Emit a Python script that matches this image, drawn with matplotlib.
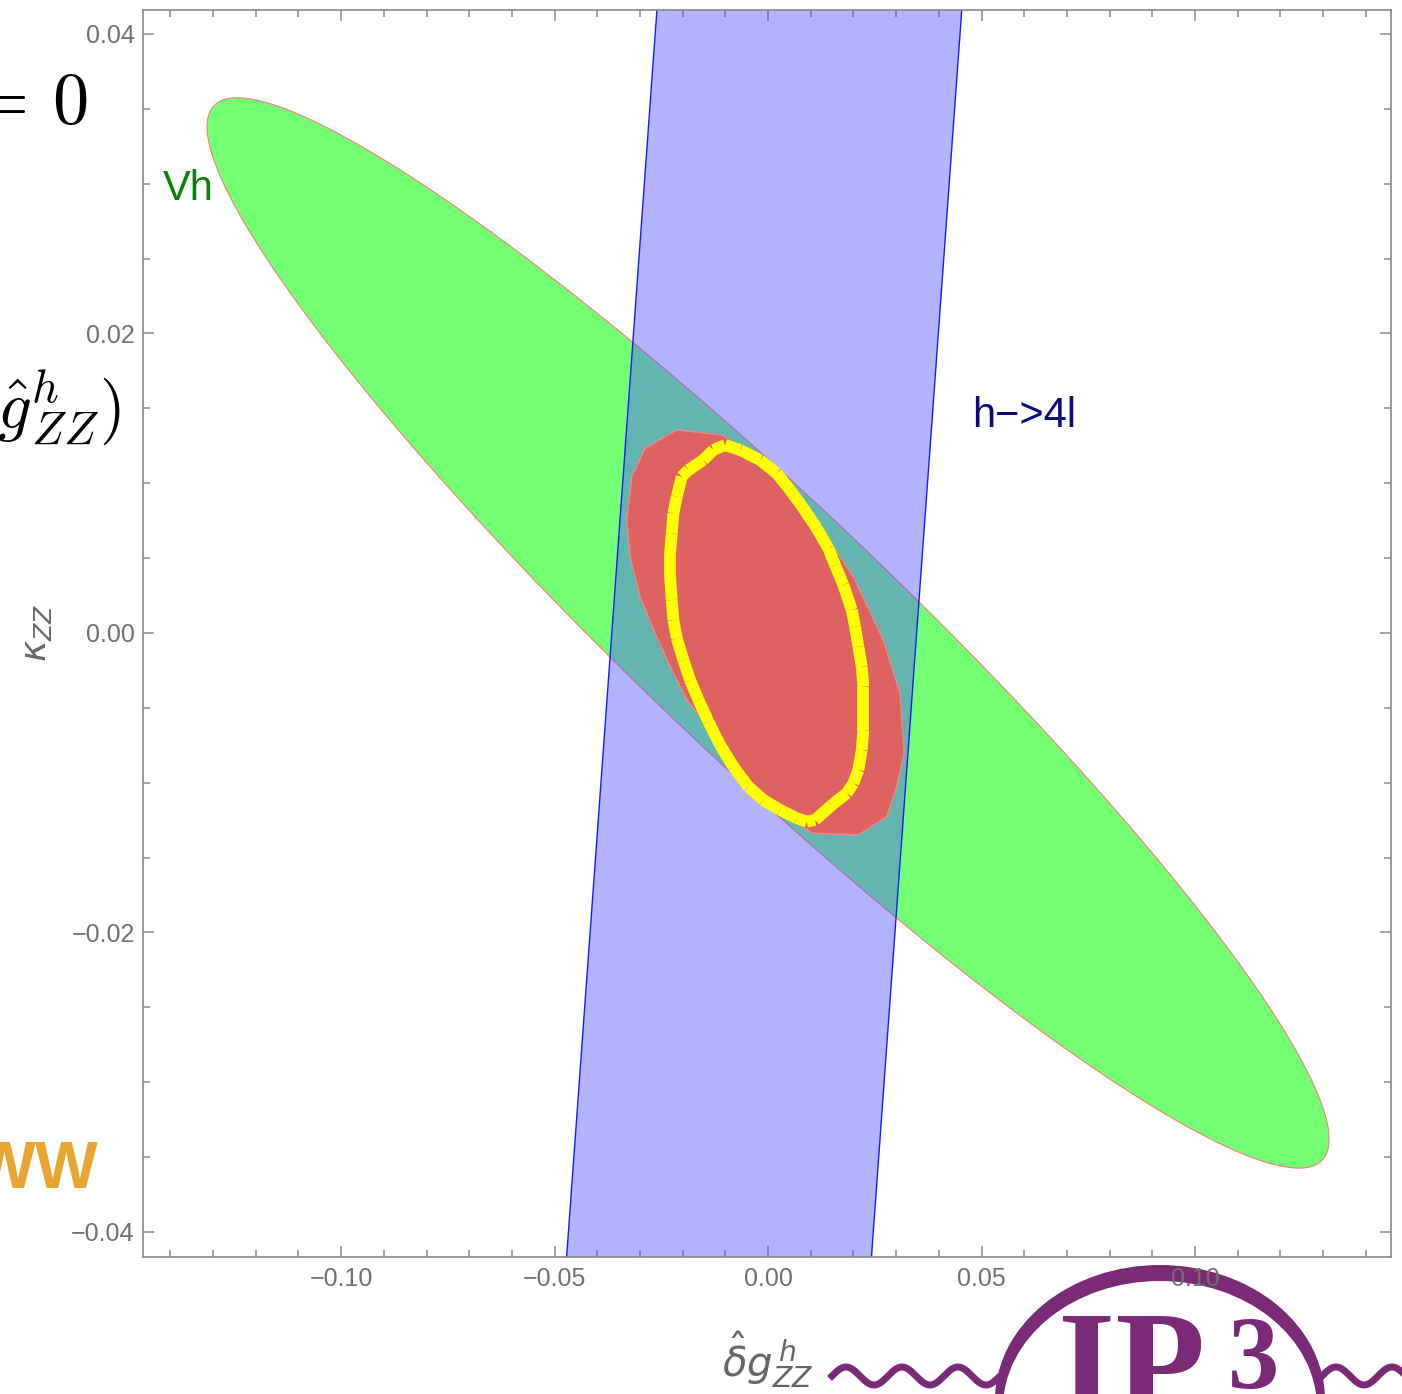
"""Constraint plane (delta g_ZZ^h, kappa_ZZ): Vh ellipse, h->4l band, combined fit."""
import numpy as np
import matplotlib; matplotlib.use("Agg")
import matplotlib.pyplot as plt
from matplotlib.patches import Ellipse
from matplotlib.ticker import MultipleLocator, FuncFormatter

plt.rcParams["font.family"] = ["Liberation Sans", "DejaVu Sans"]

# --- data ----------------------------------------------------------------
# Vh ellipse: centre, leftmost point (offset from centre), vertical half-width at centre
ell_center = (0.0, 0.0)
ell_left = (-0.1314, 0.0338)
ell_h = 0.0116

# h->4l band: x = offset + slope*y  +/- half-width
band_offset = -0.0009
band_slope = 0.254
band_halfw = 0.0357

# combined region (red)
red_x = [-0.02138, -0.01084, 0.00124, 0.01061, 0.01998, 0.02700, 0.03091, 0.03185,
         0.03014, 0.02780, 0.02115, 0.01061, 0.00124, -0.00813, -0.01475, -0.01904,
         -0.02255, -0.02646, -0.02998, -0.03232, -0.03309, -0.03192, -0.02881]
red_y = [0.01356, 0.01322, 0.01111, 0.00777, 0.00376, -0.00047, -0.00403, -0.00803,
         -0.01026, -0.01227, -0.01349, -0.01338, -0.01182, -0.00893, -0.00601, -0.00447,
         -0.00247, -0.00002, 0.00242, 0.00510, 0.00755, 0.01044, 0.01233]

# inner contour (yellow)
yel_x = [-0.01007, -0.00656, -0.00187, 0.00204, 0.00515, 0.00827, 0.01141, 0.01412,
         0.01569, 0.01763, 0.01960, 0.02037, 0.02115, 0.02194, 0.02232, 0.02232,
         0.02232, 0.02194, 0.02115, 0.01998, 0.01843, 0.01492, 0.01101, 0.00906,
         0.00672, 0.00281, -0.00110, -0.00461, -0.00813, -0.01124, -0.01398, -0.01632,
         -0.01827, -0.01984, -0.02138, -0.02218, -0.02255, -0.02295, -0.02295, -0.02255,
         -0.02218, -0.02138, -0.02021, -0.01866, -0.01515, -0.01281]
yel_y = [0.01255, 0.01222, 0.01155, 0.01066, 0.00955, 0.00833, 0.00699, 0.00566,
         0.00454, 0.00321, 0.00154, 0.00042, -0.00091, -0.00225, -0.00359, -0.00514,
         -0.00648, -0.00781, -0.00915, -0.01004, -0.01070, -0.01149, -0.01249, -0.01260,
         -0.01237, -0.01182, -0.01115, -0.01026, -0.00893, -0.00748, -0.00592, -0.00447,
         -0.00314, -0.00180, -0.00035, 0.00087, 0.00220, 0.00376, 0.00532, 0.00666,
         0.00799, 0.00910, 0.01044, 0.01088, 0.01155, 0.01222]

xticks = [-0.10, -0.05, 0.00, 0.05, 0.10]
yticks = [-0.04, -0.02, 0.00, 0.02, 0.04]

# --- figure ----------------------------------------------------------------
W, H = 1402, 1394
fig = plt.figure(figsize=(W / 100, H / 100), dpi=100)
ax = fig.add_axes([143 / W, 1 - 1257 / H, (1391 - 143) / W, (1257 - 10) / H])
ax.set_xlim(-0.1464, 0.1459)
ax.set_ylim(-0.04167, 0.0416)

t = np.linspace(0, 2 * np.pi, 600)
ex = ell_center[0] + np.cos(t) * ell_left[0]
ey = ell_center[1] + np.cos(t) * ell_left[1] + np.sin(t) * ell_h
ax.fill(ex, ey, fc="#73ff73", ec="#ff7a7a", lw=0.8, zorder=1)

yb = np.array([-0.06, 0.06])
xl = band_offset - band_halfw + band_slope * yb
xr = band_offset + band_halfw + band_slope * yb
ax.fill([xl[0], xl[1], xr[1], xr[0]], [yb[0], yb[1], yb[1], yb[0]],
        fc=(80 / 255, 80 / 255, 1.0), alpha=0.43, lw=0, zorder=2)
ax.plot(xl, yb, c="#1a1aff", lw=1, zorder=2)
ax.plot(xr, yb, c="#1a1aff", lw=1, zorder=2)

ax.fill(red_x, red_y, fc="#de6262", ec="#ea8a8a", lw=1, zorder=3)

cx = yel_x + yel_x[:1]
cy = yel_y + yel_y[:1]
for i in range(len(cx) - 1):
    ax.plot(cx[i:i + 2], cy[i:i + 2], c="#ffff00", lw=8.5, solid_capstyle="butt", zorder=4)

ax.text(-0.1417, 0.0289, "Vh", color="#088208", fontsize=30)
ax.text(0.0478, 0.01376, "h\u2212>4l", color="#0a0a80", fontsize=30)

# --- axes cosmetics (Mathematica frame look) --------------------------------
fmt = FuncFormatter(lambda v, p: f"{0.0 if abs(v) < 1e-9 else v:.2f}".replace("-", "\u2212"))
ax.set_xticks(xticks); ax.set_yticks(yticks)
ax.xaxis.set_major_formatter(fmt); ax.yaxis.set_major_formatter(fmt)
ax.xaxis.set_minor_locator(MultipleLocator(0.01))
ax.yaxis.set_minor_locator(MultipleLocator(0.005))
ax.tick_params(which="both", direction="in", top=True, right=True, color="#888888",
               width=1.1, labelcolor="#707070", labelsize=18)
ax.tick_params(which="major", length=8)
ax.tick_params(which="minor", length=5)
ax.tick_params(axis="y", pad=6)
ax.tick_params(axis="x", pad=7)
for s in ax.spines.values():
    s.set_color("#888888"); s.set_linewidth(1.2)

# --- text around the plot (slide context) ------------------------------------
def fx(px): return px / W
def fy(py): return 1 - py / H

fig.text(fx(37), fy(633), r"$\kappa_{ZZ}$", rotation=90, color="#666666", fontsize=26,
         ha="center", va="center", math_fontfamily="dejavusans")
fig.text(fx(768), fy(1360), r"$\hat{\delta}g^{\,h}_{ZZ}$", color="#666666", fontsize=29,
         ha="center", va="center", math_fontfamily="dejavusans")
fig.text(fx(87), fy(123), r"$=\,0$", fontsize=52, ha="right", va="baseline", math_fontfamily="cm")
fig.text(fx(121), fy(407), r"$\hat{g}^{h}_{ZZ})$", fontsize=48, ha="right", va="center",
         math_fontfamily="cm")
fig.text(fx(99), fy(1188), "WW", color="#e8a531", fontsize=48, fontweight="bold",
         ha="right", va="baseline")

# logo (drawn beneath the axes so the tick labels stay on top)
purple = "#7a2a77"
fig.add_artist(Ellipse((fx(1160), fy(1400)), 330 / W, 270 / H, transform=fig.transFigure,
                       fc=purple, ec="none", zorder=-2))
fig.add_artist(Ellipse((fx(1160), fy(1408)), 314 / W, 254 / H, transform=fig.transFigure,
                       fc="white", ec="none", zorder=-2))
for x0, x1 in [(832, 998), (1322, 1402)]:
    wx = np.linspace(x0, x1, 200)
    wy = 1376 + 9 * np.sin((wx - x0) / 56 * 2 * np.pi + np.pi)
    fig.add_artist(plt.Line2D(fx(wx), fy(wy), transform=fig.transFigure, c=purple, lw=5,
                              zorder=-2))
fig.text(fx(1058), fy(1412), "IP", color=purple, fontsize=106, fontweight="bold",
         family="Liberation Serif", ha="left", va="baseline", zorder=-1)
fig.text(fx(1228), fy(1388), "3", color=purple, fontsize=74, fontweight="bold",
         family="Liberation Serif", ha="left", va="baseline", zorder=-1)

fig.savefig("out.png", dpi=100)
